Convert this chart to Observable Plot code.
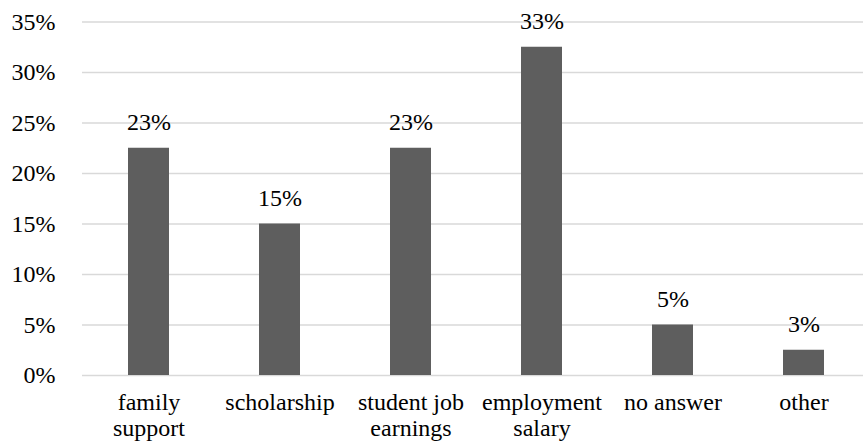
<!DOCTYPE html>
<html><head><meta charset="utf-8">
<script src="https://cdn.jsdelivr.net/npm/d3@7"></script>
<script src="https://cdn.jsdelivr.net/npm/@observablehq/plot@0.6"></script>
<style>
html,body{margin:0;padding:0;background:#fff;}
svg{display:block;}
</style>
</head><body>
<div id="chart"></div>
<script>
const categories = ["family\nsupport", "scholarship", "student job\nearnings", "employment\nsalary", "no answer", "other"];
const values = [22.5, 15, 22.5, 32.5, 5, 2.5];
const yTicks = [0, 5, 10, 15, 20, 25, 30, 35];

const data = categories.map((c, i) => ({category: c, value: values[i], label: Math.round(values[i]) + "%"}));

const serif = "Times New Roman";
const chart = Plot.plot({
  width: 863,
  height: 446,
  marginLeft: 82,
  marginRight: 0,
  marginTop: 21.5,
  marginBottom: 71,
  style: {fontFamily: serif, fontSize: "24px", color: "#000", background: "#fff"},
  x: {domain: categories, range: [82, 870], paddingInner: 0.688, paddingOuter: 0.344, align: 0.5},
  y: {domain: [0, 35], range: [375, 21.5]},
  marks: [
    Plot.ruleY(yTicks, {stroke: "#d9d9d9", strokeWidth: 1.5}),
    Plot.barY(data, {x: "category", y: "value", fill: "#5e5e5e"}),
    Plot.text(data, {x: "category", y: "value", text: "label", dy: -26, fontSize: 24, fontFamily: serif, fill: "#000"}),
    Plot.axisY({ticks: yTicks, tickSize: 0, tickPadding: 27, tickFormat: d => d + "%", fontSize: 24, fontFamily: serif, fill: "#000", label: null}),
    Plot.axisX({tickSize: 0, tickPadding: 17, fontSize: 24, fontFamily: serif, fill: "#000", label: null, lineHeight: 1.05})
  ]
});
document.getElementById("chart").appendChild(chart);
</script>
</body></html>
